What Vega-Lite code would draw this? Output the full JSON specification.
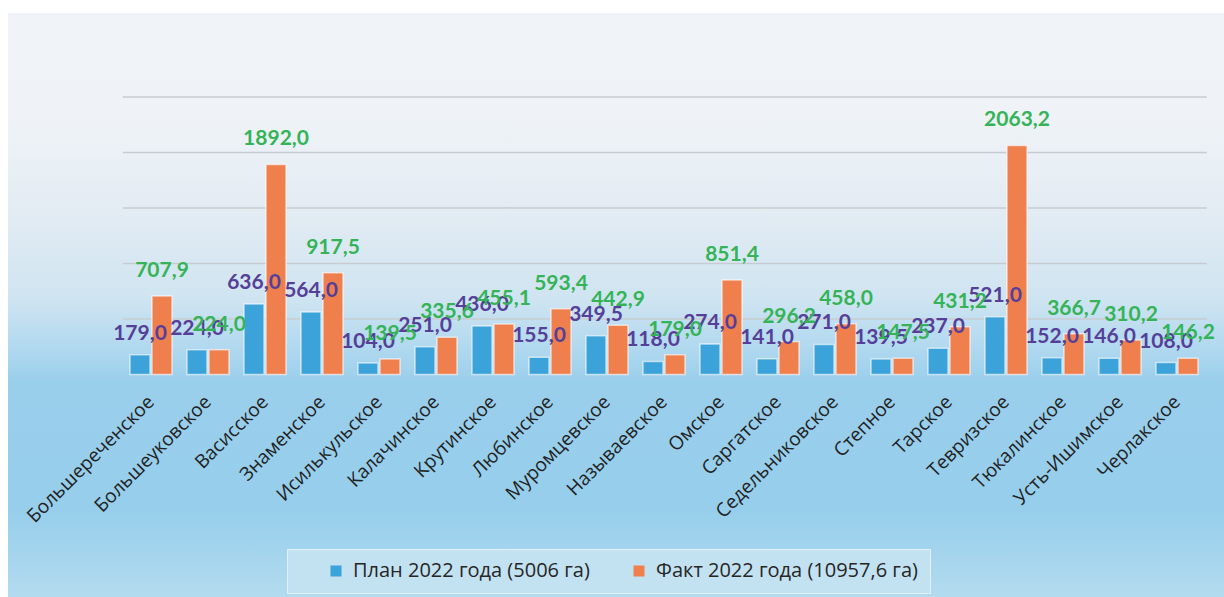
{
  "$schema": "https://vega.github.io/schema/vega-lite/v6.json",
  "width": 1216,
  "height": 584,
  "padding": {"left": 8, "top": 13, "right": 0, "bottom": 0},
  "autosize": {"type": "none"},
  "background": "#ffffff",
  "view": {
    "stroke": null,
    "fill": {
      "gradient": "linear", "x1": 0, "y1": 0, "x2": 0, "y2": 1,
      "stops": [
        {"offset": 0, "color": "#f0f4f8"},
        {"offset": 0.17, "color": "#eff3f7"},
        {"offset": 0.34, "color": "#e3ecf3"},
        {"offset": 0.49, "color": "#cfe4f1"},
        {"offset": 0.57, "color": "#b2d9ef"},
        {"offset": 0.63, "color": "#9acfec"},
        {"offset": 0.85, "color": "#96ceeb"},
        {"offset": 1, "color": "#b3dbef"}
      ]
    }
  },
  "config": {
    "locale": {"number": {"decimal": ",", "thousands": "\u00a0", "grouping": [3], "currency": ["", ""]}}
  },
  "data": {
    "values": [
      {"cat": "Большереченское", "series": "План 2022 года (5006 га)", "value": 179.0},
      {"cat": "Большереченское", "series": "Факт 2022 года (10957,6 га)", "value": 707.9},
      {"cat": "Большеуковское", "series": "План 2022 года (5006 га)", "value": 224.0},
      {"cat": "Большеуковское", "series": "Факт 2022 года (10957,6 га)", "value": 224.0},
      {"cat": "Васисское", "series": "План 2022 года (5006 га)", "value": 636.0},
      {"cat": "Васисское", "series": "Факт 2022 года (10957,6 га)", "value": 1892.0},
      {"cat": "Знаменское", "series": "План 2022 года (5006 га)", "value": 564.0},
      {"cat": "Знаменское", "series": "Факт 2022 года (10957,6 га)", "value": 917.5},
      {"cat": "Исилькульское", "series": "План 2022 года (5006 га)", "value": 104.0},
      {"cat": "Исилькульское", "series": "Факт 2022 года (10957,6 га)", "value": 139.5},
      {"cat": "Калачинское", "series": "План 2022 года (5006 га)", "value": 251.0},
      {"cat": "Калачинское", "series": "Факт 2022 года (10957,6 га)", "value": 335.6},
      {"cat": "Крутинское", "series": "План 2022 года (5006 га)", "value": 436.0},
      {"cat": "Крутинское", "series": "Факт 2022 года (10957,6 га)", "value": 455.1},
      {"cat": "Любинское", "series": "План 2022 года (5006 га)", "value": 155.0},
      {"cat": "Любинское", "series": "Факт 2022 года (10957,6 га)", "value": 593.4},
      {"cat": "Муромцевское", "series": "План 2022 года (5006 га)", "value": 349.5},
      {"cat": "Муромцевское", "series": "Факт 2022 года (10957,6 га)", "value": 442.9},
      {"cat": "Называевское", "series": "План 2022 года (5006 га)", "value": 118.0},
      {"cat": "Называевское", "series": "Факт 2022 года (10957,6 га)", "value": 179.0},
      {"cat": "Омское", "series": "План 2022 года (5006 га)", "value": 274.0},
      {"cat": "Омское", "series": "Факт 2022 года (10957,6 га)", "value": 851.4},
      {"cat": "Саргатское", "series": "План 2022 года (5006 га)", "value": 141.0},
      {"cat": "Саргатское", "series": "Факт 2022 года (10957,6 га)", "value": 296.2},
      {"cat": "Седельниковское", "series": "План 2022 года (5006 га)", "value": 271.0},
      {"cat": "Седельниковское", "series": "Факт 2022 года (10957,6 га)", "value": 458.0},
      {"cat": "Степное", "series": "План 2022 года (5006 га)", "value": 139.5},
      {"cat": "Степное", "series": "Факт 2022 года (10957,6 га)", "value": 147.5},
      {"cat": "Тарское", "series": "План 2022 года (5006 га)", "value": 237.0},
      {"cat": "Тарское", "series": "Факт 2022 года (10957,6 га)", "value": 431.2},
      {"cat": "Тевризское", "series": "План 2022 года (5006 га)", "value": 521.0},
      {"cat": "Тевризское", "series": "Факт 2022 года (10957,6 га)", "value": 2063.2},
      {"cat": "Тюкалинское", "series": "План 2022 года (5006 га)", "value": 152.0},
      {"cat": "Тюкалинское", "series": "Факт 2022 года (10957,6 га)", "value": 366.7},
      {"cat": "Усть-Ишимское", "series": "План 2022 года (5006 га)", "value": 146.0},
      {"cat": "Усть-Ишимское", "series": "Факт 2022 года (10957,6 га)", "value": 310.2},
      {"cat": "Черлакское", "series": "План 2022 года (5006 га)", "value": 108.0},
      {"cat": "Черлакское", "series": "Факт 2022 года (10957,6 га)", "value": 146.2}
    ]
  },
  "encoding": {
    "x": {
      "field": "cat", "type": "nominal", "sort": null,
      "scale": {
        "domain": ["Большереченское", "Большеуковское", "Васисское", "Знаменское", "Исилькульское", "Калачинское", "Крутинское", "Любинское", "Муромцевское", "Называевское", "Омское", "Саргатское", "Седельниковское", "Степное", "Тарское", "Тевризское", "Тюкалинское", "Усть-Ишимское", "Черлакское"],
        "range": [114.5, 1197.5],
        "paddingInner": 0.263, "paddingOuter": 0.1315
      },
      "axis": {
        "orient": "bottom", "offset": -222.5, "domain": false, "ticks": false, "grid": false,
        "title": null, "labelAngle": -45, "labelAlign": "right", "labelBaseline": "middle",
        "labelPadding": 24, "labelFontSize": 19, "labelFont": "Open Sans", "labelColor": "#222222",
        "labelLimit": 400, "labelOverlap": false, "labelBound": false, "labelFlush": false
      }
    },
    "y": {
      "field": "value", "type": "quantitative",
      "scale": {"domain": [-2004.5, 3256.8], "nice": false, "zero": false},
      "axis": null
    }
  },
  "layer": [
    {
      "data": {"values": [{"g": 500}, {"g": 1000}, {"g": 1500}, {"g": 2000}, {"g": 2500}]},
      "mark": {"type": "rule", "color": "#c8ccd1", "strokeWidth": 1.5},
      "encoding": {
        "y": {"field": "g", "type": "quantitative"},
        "x": {"datum": "Большереченское", "bandPosition": -0.17},
        "x2": {"datum": "Черлакское", "bandPosition": 1.21}
      }
    },
    {
      "mark": {"type": "bar", "stroke": "#ffffff", "strokeOpacity": 0.6, "strokeWidth": 1.5},
      "encoding": {
        "xOffset": {"field": "series", "type": "nominal", "sort": null, "scale": {"paddingInner": 0.09, "paddingOuter": 0}},
        "color": {
          "field": "series", "type": "nominal", "sort": null,
          "scale": {"domain": ["План 2022 года (5006 га)", "Факт 2022 года (10957,6 га)"], "range": ["#3ba3d9", "#f07f4e"]},
          "legend": {
            "orient": "none", "legendX": 279, "legendY": 536, "direction": "horizontal", "title": null,
            "fillColor": "#c3e2f1", "strokeColor": "#e2f1f9", "padding": 12, "symbolOffset": 27,
            "columnPadding": 12, "labelFontSize": 20, "labelFont": "Open Sans", "labelColor": "#262626",
            "symbolType": "square", "symbolSize": 121, "symbolStrokeWidth": 0, "labelOffset": 7, "labelLimit": 400
          }
        }
      }
    },
    {
      "data": {"values": [{"z": 0}]},
      "mark": {"type": "rule", "color": "#6b6b6b", "strokeWidth": 3},
      "encoding": {
        "y": {"datum": 0},
        "x": {"datum": "Большереченское", "bandPosition": -0.17},
        "x2": {"datum": "Черлакское", "bandPosition": 1.21}
      }
    },
    {
      "transform": [{"filter": "datum.series === 'План 2022 года (5006 га)'"}],
      "mark": {"type": "text", "font": "Lato", "fontWeight": "bold", "fontSize": 21, "color": "#553f99", "baseline": "middle", "dy": -21},
      "encoding": {
        "xOffset": {"field": "series", "type": "nominal", "sort": null},
        "text": {"field": "value", "type": "quantitative", "format": ".1f"}
      }
    },
    {
      "transform": [{"filter": "datum.series === 'Факт 2022 года (10957,6 га)'"}],
      "mark": {"type": "text", "font": "Lato", "fontWeight": "bold", "fontSize": 21, "color": "#34b457", "baseline": "middle", "dy": -25},
      "encoding": {
        "xOffset": {"field": "series", "type": "nominal", "sort": null},
        "text": {"field": "value", "type": "quantitative", "format": ".1f"}
      }
    }
  ]
}
